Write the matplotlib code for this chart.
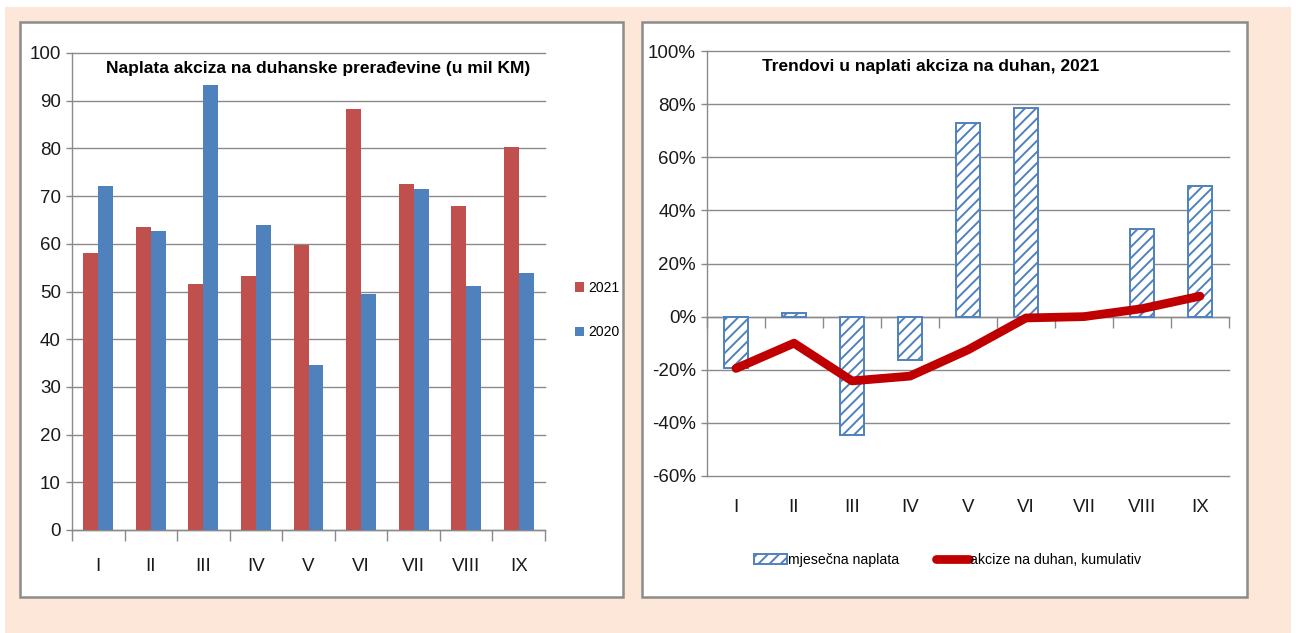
import matplotlib
matplotlib.use("Agg")
import matplotlib.pyplot as plt
from matplotlib.patches import Rectangle, Patch
from matplotlib.lines import Line2D
from matplotlib.ticker import FixedLocator, PercentFormatter

# data
months = ["I", "II", "III", "IV", "V", "VI", "VII", "VIII", "IX"]
excise_2021 = [58.0, 63.5, 51.5, 53.3, 59.8, 88.3, 72.5, 68.0, 80.3]
excise_2020 = [72.2, 62.7, 93.2, 64.0, 34.6, 49.5, 71.5, 51.2, 53.8]
monthly_change = [-19.5, 1.5, -44.5, -16.3, 73.0, 78.6, 1.0, 33.0, 49.0]
cumulative_change = [-19.5, -10.0, -24.2, -22.4, -12.5, -0.5, 0.0, 3.0, 7.7]

left_title = "Naplata akciza na duhanske prerađevine (u mil KM)"
right_title = "Trendovi u naplati akciza na duhan, 2021"
legend_left = ["2021", "2020"]
legend_right = ["mjesečna naplata", "akcize na duhan, kumulativ"]

RED = "#C0504D"
BLUE = "#4F81BD"
DARKRED = "#C00000"
GRID = "#8A8A8A"
PEACH = "#FCE7D9"
TXT = "#1a1a1a"

plt.rcParams["font.family"] = ["Liberation Sans", "DejaVu Sans"]
plt.rcParams["hatch.linewidth"] = 1.4
plt.rcParams["axes.unicode_minus"] = False

W, H = 1296, 633
fig = plt.figure(figsize=(W / 100, H / 100), dpi=100, facecolor="white")


def px(x0, y0, x1, y1):
    # pixel box (top-left origin) -> figure fraction rect
    return [x0 / W, 1 - y1 / H, (x1 - x0) / W, (y1 - y0) / H]


# background and panels
fig.patches.append(Rectangle((5 / W, 0), 1286 / W, 1 - 7 / H,
                             transform=fig.transFigure, facecolor=PEACH,
                             edgecolor="none", zorder=-3))
for x0, x1 in [(20, 623), (642, 1247)]:
    fig.patches.append(Rectangle((x0 / W, 1 - 597 / H), (x1 - x0) / W, (597 - 22) / H,
                                 transform=fig.transFigure, facecolor="white",
                                 edgecolor="#8C8C8C", linewidth=1.8, zorder=-2))

n = len(months)
xs = list(range(n))

# ---------------- left chart ----------------
ax1 = fig.add_axes(px(72, 53, 545, 530))
ax1.set_facecolor("none")
bw = 0.285
ax1.bar([x - bw / 2 for x in xs], excise_2021, width=bw, color=RED, label=legend_left[0], zorder=3)
ax1.bar([x + bw / 2 for x in xs], excise_2020, width=bw, color=BLUE, label=legend_left[1], zorder=3)
ax1.set_xlim(-0.5, n - 0.5)
ax1.set_ylim(0, 100)
ax1.set_yticks(range(0, 101, 10))
ax1.yaxis.grid(True, color=GRID, linewidth=1.0, zorder=0, clip_on=False)
ax1.set_xticks(xs)
ax1.set_xticklabels(months)
ax1.xaxis.set_minor_locator(FixedLocator([x - 0.5 for x in range(n + 1)]))
ax1.tick_params(axis="x", which="major", length=0, pad=20, labelsize=13.5, labelcolor=TXT)
ax1.tick_params(axis="x", which="minor", length=8, color=GRID, width=1)
ax1.tick_params(axis="y", length=4, color=GRID, width=1, labelsize=13.5, labelcolor=TXT, pad=4)
for s in ["top", "right"]:
    ax1.spines[s].set_visible(False)
for s in ["left", "bottom"]:
    ax1.spines[s].set_color(GRID)
    ax1.spines[s].set_linewidth(1.0)
fig.text(318 / W, 1 - 68 / H, left_title, ha="center", va="center",
         fontsize=12.5, fontweight="bold", color="black")
ax1.legend(loc="center left", bbox_to_anchor=(562 / W, 1 - 310 / H),
           bbox_transform=fig.transFigure, frameon=False, handlelength=0.7,
           handleheight=0.7, handletextpad=0.3, labelspacing=2.2, fontsize=10)

# ---------------- right chart ----------------
ax2 = fig.add_axes(px(707, 51, 1229, 476))
ax2.set_facecolor("none")
ax2.bar(xs, monthly_change, width=0.41, facecolor="white", edgecolor=BLUE,
        hatch="///", linewidth=1.4, zorder=3)
ax2.plot(xs, cumulative_change, color=DARKRED, linewidth=6.3, solid_capstyle="round", zorder=4)
ax2.set_xlim(-0.5, n - 0.5)
ax2.set_ylim(-60, 100)
ax2.set_yticks(range(-60, 101, 20))
ax2.yaxis.set_major_formatter(PercentFormatter(decimals=0))
ax2.yaxis.grid(True, color=GRID, linewidth=1.0, zorder=0, clip_on=False)
ax2.spines["bottom"].set_position(("data", 0))
ax2.set_xticks([x - 0.5 for x in range(n + 1)])
ax2.set_xticklabels([])
ax2.tick_params(axis="x", length=8, color=GRID, width=1)
ax2.tick_params(axis="y", length=4, color=GRID, width=1, labelsize=13.5, labelcolor=TXT, pad=4)
for x, m in zip(xs, months):
    ax2.text(x, -0.075, m, transform=ax2.get_xaxis_transform(), ha="center", va="center",
             fontsize=13.5, color=TXT)
for s in ["top", "right"]:
    ax2.spines[s].set_visible(False)
for s in ["left", "bottom"]:
    ax2.spines[s].set_color(GRID)
    ax2.spines[s].set_linewidth(1.0)
fig.text(931 / W, 1 - 66 / H, right_title, ha="center", va="center",
         fontsize=12.5, fontweight="bold", color="black")
handles = [Patch(facecolor="white", edgecolor=BLUE, hatch="///", linewidth=1.4),
           Line2D([0], [0], color=DARKRED, linewidth=6.3, solid_capstyle="round")]
ax2.legend(handles, legend_right, loc="center", bbox_to_anchor=(948 / W, 1 - 560 / H),
           bbox_transform=fig.transFigure, ncol=2, frameon=False, fontsize=10.2,
           handlelength=2.3, handletextpad=0.1, columnspacing=2.6)

fig.savefig("out.png", dpi=100)
